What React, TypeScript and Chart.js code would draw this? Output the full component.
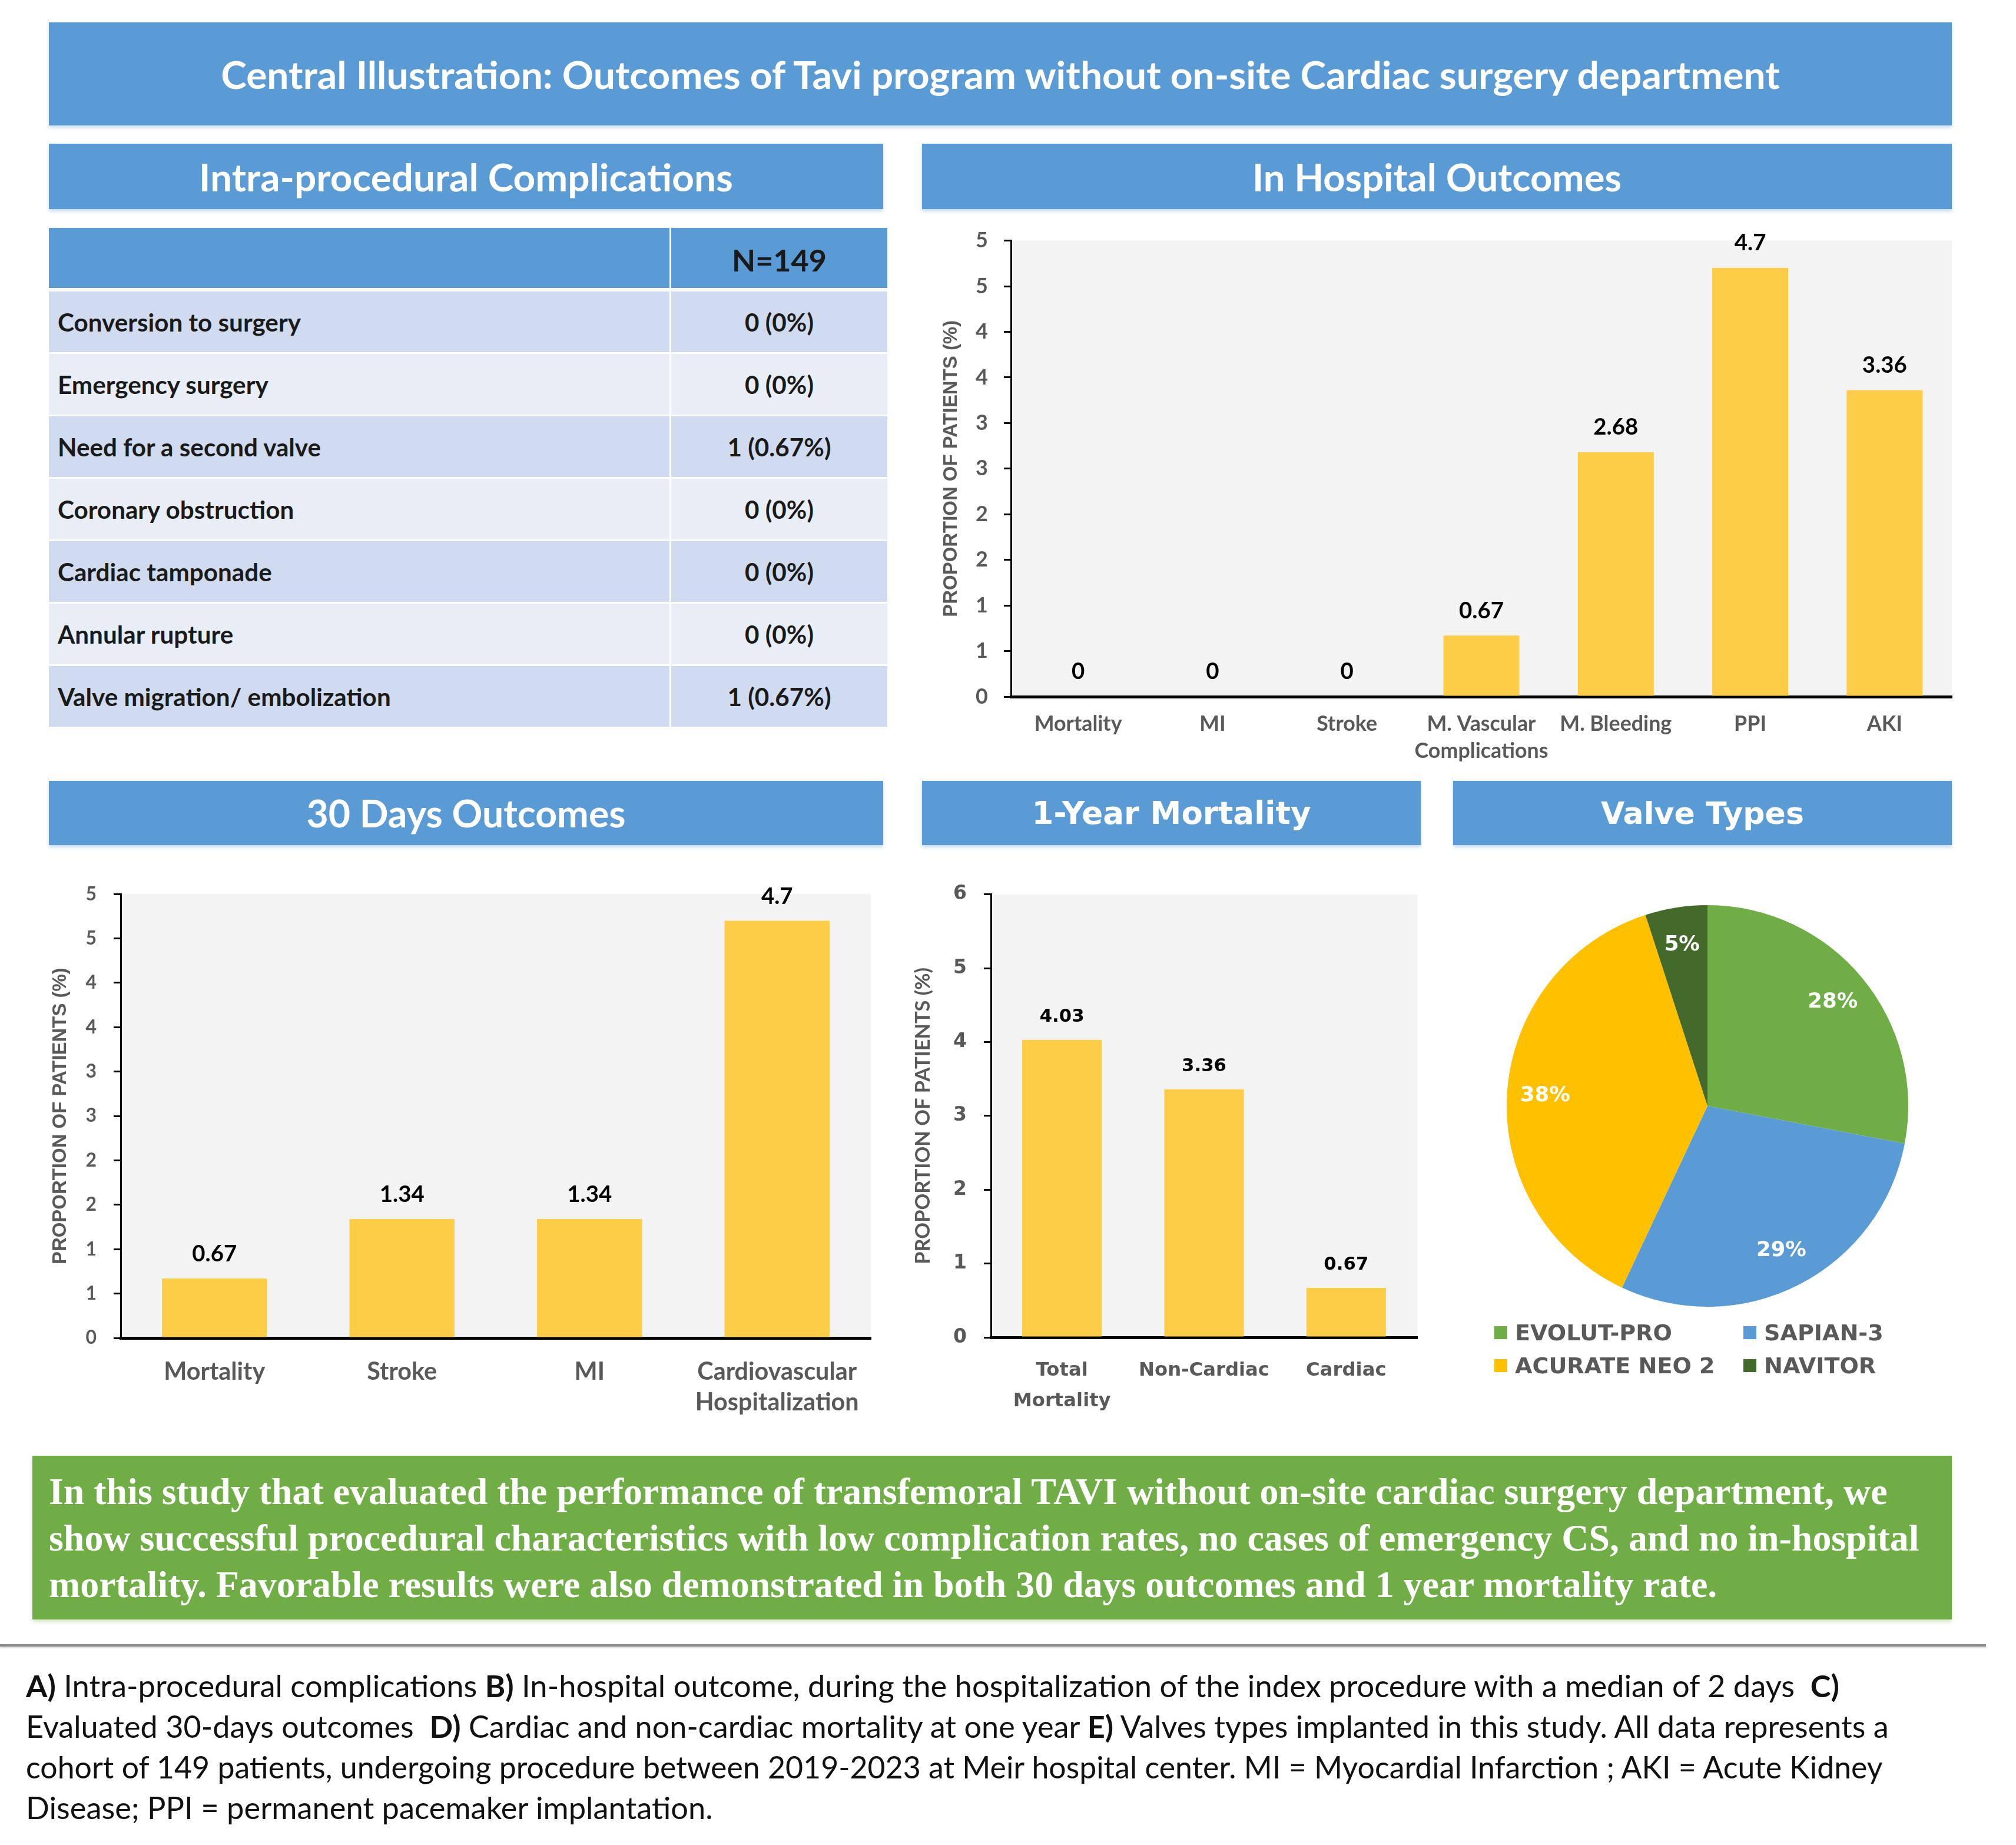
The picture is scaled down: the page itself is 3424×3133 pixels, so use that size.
import React, { useEffect, useRef } from 'react';
import { Chart, registerables } from 'chart.js';
Chart.register(...registerables);

// ---------------- data ----------------
const complicationItems = [
  'Conversion to surgery',
  'Emergency surgery',
  'Need for a second valve',
  'Coronary obstruction',
  'Cardiac tamponade',
  'Annular rupture',
  'Valve migration/ embolization',
];
const complicationCounts = ['0 (0%)', '0 (0%)', '1 (0.67%)', '0 (0%)', '0 (0%)', '0 (0%)', '1 (0.67%)'];
const cohortLabel = 'N=149';

const hospitalCategories: any[] = ['Mortality', 'MI', 'Stroke', ['M. Vascular', 'Complications'], 'M. Bleeding', 'PPI', 'AKI'];
const hospitalValues = [0, 0, 0, 0.67, 2.68, 4.7, 3.36];
const halfStepTickLabels = ['0', '1', '1', '2', '2', '3', '3', '4', '4', '5', '5'];

const days30Categories: any[] = ['Mortality', 'Stroke', 'MI', ['Cardiovascular', 'Hospitalization']];
const days30Values = [0.67, 1.34, 1.34, 4.7];

const yearCategories: any[] = [['Total', 'Mortality'], 'Non-Cardiac', 'Cardiac'];
const yearValues = [4.03, 3.36, 0.67];
const yearTickLabels = ['0', '1', '2', '3', '4', '5', '6'];

const valveTypes = ['EVOLUT-PRO', 'SAPIAN-3', 'ACURATE NEO 2', 'NAVITOR'];
const valveShares = [28, 29, 38, 5];

const axisTitle = 'PROPORTION OF PATIENTS (%)';
const mainTitle = 'Central Illustration: Outcomes of Tavi program without on-site Cardiac surgery department';
const summaryLines = [
  'In this study that evaluated the performance of transfemoral TAVI without on-site cardiac surgery department, we',
  'show successful procedural characteristics with low complication rates, no cases of emergency CS, and no in-hospital',
  'mortality. Favorable results were also demonstrated in both 30 days outcomes and 1 year mortality rate.',
];
const captionLines: { t: string; b?: boolean }[][] = [
  [
    { t: 'A)', b: true },
    { t: ' Intra-procedural complications ' },
    { t: 'B)', b: true },
    { t: ' In-hospital outcome, during the hospitalization of the index procedure with a median of 2 days  ' },
    { t: 'C)', b: true },
  ],
  [
    { t: 'Evaluated 30-days outcomes  ' },
    { t: 'D)', b: true },
    { t: ' Cardiac and non-cardiac mortality at one year ' },
    { t: 'E)', b: true },
    { t: ' Valves types implanted in this study. All data represents a' },
  ],
  [{ t: 'cohort of 149 patients, undergoing procedure between 2019-2023 at Meir hospital center. MI = Myocardial Infarction ; AKI = Acute Kidney' }],
  [{ t: 'Disease; PPI = permanent pacemaker implantation.' }],
];

// ---------------- styles ----------------
const BLUE = '#5B9BD5';
const GREEN = '#70AD47';
const BAR_COLOR = '#FDCD48';
const VALVE_COLORS = ['#70AD47', '#5B9BD5', '#FFC000', '#436A2B'];
const GRAY_TEXT = '#595959';
const LATO = 'Lato';
const DEJAVU = "'DejaVu Sans'";
const LIBSANS = "'Liberation Sans'";
const SERIF = "'Liberation Serif'";

let mctx: any = null;
function measure(segs: { t: string; b?: boolean }[] | string, family: string, size: number, bold = true) {
  if (!mctx) mctx = document.createElement('canvas').getContext('2d');
  const list = typeof segs === 'string' ? [{ t: segs, b: bold }] : segs;
  let w = 0;
  for (const s of list) {
    mctx.font = `${s.b ? 'bold ' : ''}${size}px ${family}`;
    w += mctx.measureText(s.t).width;
  }
  return w;
}
function fit(segs: { t: string; b?: boolean }[] | string, family: string, target: number, bold = true) {
  return (100 * target) / measure(segs, family, 100, bold);
}

const plotBg = {
  id: 'plotBg',
  beforeDraw(chart: any) {
    const { ctx, chartArea: a } = chart;
    ctx.save();
    ctx.fillStyle = '#F3F3F3';
    ctx.fillRect(a.left, a.top, a.right - a.left, a.bottom - a.top);
    ctx.restore();
  },
};

const valueLabels = {
  id: 'valueLabels',
  afterDatasetsDraw(chart: any, _a: any, opts: any) {
    const { ctx } = chart;
    const meta = chart.getDatasetMeta(0);
    const data = chart.data.datasets[0].data;
    ctx.save();
    ctx.font = opts.font;
    ctx.fillStyle = '#000';
    ctx.textAlign = 'center';
    ctx.textBaseline = 'middle';
    meta.data.forEach((el: any, i: number) => {
      ctx.fillText(String(data[i]), el.x, el.y - opts.offset);
    });
    ctx.restore();
  },
};

const pieLabels = {
  id: 'pieLabels',
  afterDatasetsDraw(chart: any, _a: any, opts: any) {
    const { ctx } = chart;
    const meta = chart.getDatasetMeta(0);
    const data = chart.data.datasets[0].data;
    ctx.save();
    ctx.font = opts.font;
    ctx.fillStyle = '#fff';
    ctx.textAlign = 'center';
    ctx.textBaseline = 'middle';
    meta.data.forEach((arc: any, i: number) => {
      const mid = (arc.startAngle + arc.endAngle) / 2;
      const r = arc.outerRadius * opts.radius;
      ctx.fillText(`${data[i]}%`, arc.x + Math.cos(mid) * r, arc.y + Math.sin(mid) * r);
    });
    ctx.restore();
  },
};

type BarProps = {
  box: { left: number; top: number; width: number; height: number };
  plot: { left: number; top: number; right: number; bottom: number };
  labels: any[];
  values: number[];
  max: number;
  step: number;
  tickLabels: string[];
  family: string;
  labelSize: number;
  tickSize: number;
  valueSize: number;
  lineHeight: number;
  labelGap: number;
  tickGap: number;
  valueOffset: number;
  barRatio: number;
  titleFamily: string;
  titleSize: number;
  titleCenter: number;
};

function BarChart(p: BarProps) {
  const ref = useRef<HTMLCanvasElement>(null);
  useEffect(() => {
    const yWidth = p.plot.left - p.box.left;
    const xHeight = p.box.top + p.box.height - p.plot.bottom;
    const padTop = p.plot.top - p.box.top;
    const padRight = p.box.left + p.box.width - p.plot.right;
    const chart = new Chart(ref.current as any, {
      type: 'bar',
      data: {
        labels: p.labels,
        datasets: [
          {
            data: p.values,
            backgroundColor: BAR_COLOR,
            barPercentage: p.barRatio,
            categoryPercentage: 1,
          },
        ],
      },
      options: {
        animation: false,
        responsive: false,
        devicePixelRatio: 1,
        layout: { padding: { top: padTop, right: padRight, left: 0, bottom: 0 } },
        plugins: {
          legend: { display: false },
          tooltip: { enabled: false },
          valueLabels: { font: `bold ${p.valueSize}px ${p.family}`, offset: p.valueOffset },
        } as any,
        scales: {
          x: {
            offset: true,
            grid: { display: false, drawTicks: false },
            border: { display: true, color: '#000', width: 5 },
            ticks: {
              color: GRAY_TEXT,
              font: { family: p.family, size: p.labelSize, weight: 'bold', lineHeight: `${p.lineHeight}px` },
              padding: p.labelGap,
              maxRotation: 0,
              autoSkip: false,
            },
            afterFit: (s: any) => {
              s.height = xHeight;
            },
          },
          y: {
            min: 0,
            max: p.max,
            ticks: {
              stepSize: p.step,
              autoSkip: false,
              callback: (_v: any, i: number) => p.tickLabels[i],
              color: GRAY_TEXT,
              font: { family: p.family, size: p.tickSize, weight: 'bold' },
              padding: p.tickGap,
            },
            grid: { drawOnChartArea: false, drawTicks: true, tickLength: 12, color: '#000', lineWidth: 3 },
            border: { display: true, color: '#000', width: 3 },
            title: {
              display: true,
              text: axisTitle,
              color: GRAY_TEXT,
              font: { family: p.titleFamily, size: p.titleSize, weight: 'bold', lineHeight: '34px' },
              padding: { top: p.titleCenter - p.box.left - 17, bottom: 0 },
            },
            afterFit: (s: any) => {
              s.width = yWidth;
            },
          },
        } as any,
      },
      plugins: [plotBg, valueLabels],
    });
    return () => chart.destroy();
  }, []);
  return (
    <canvas
      ref={ref}
      width={p.box.width}
      height={p.box.height}
      style={{ position: 'absolute', left: p.box.left, top: p.box.top, width: p.box.width, height: p.box.height }}
    />
  );
}

const PIE_CX = 2900;
const PIE_CY = 1878;
const PIE_R = 341;

function PieChart({ size }: { size: number }) {
  const ref = useRef<HTMLCanvasElement>(null);
  useEffect(() => {
    const chart = new Chart(ref.current as any, {
      type: 'pie',
      data: {
        labels: valveTypes,
        datasets: [{ data: valveShares, backgroundColor: VALVE_COLORS, borderWidth: 0, hoverOffset: 0, hoverBorderWidth: 0 } as any],
      },
      options: {
        animation: false,
        responsive: false,
        devicePixelRatio: 1,
        layout: { padding: 400 - PIE_R },
        plugins: {
          legend: { display: false },
          tooltip: { enabled: false },
          pieLabels: { font: `bold ${size}px ${DEJAVU}`, radius: 0.81 },
        } as any,
      },
      plugins: [pieLabels],
    });
    return () => chart.destroy();
  }, []);
  return (
    <canvas
      ref={ref}
      width={800}
      height={800}
      style={{ position: 'absolute', left: PIE_CX - 400, top: PIE_CY - 400, width: 800, height: 800 }}
    />
  );
}

function Header({ left, top, width, height, text, family, size }: any) {
  return (
    <div
      style={{
        position: 'absolute',
        left,
        top,
        width,
        height,
        background: BLUE,
        color: '#fff',
        fontFamily: family,
        fontWeight: 700,
        fontSize: size,
        display: 'flex',
        alignItems: 'center',
        justifyContent: 'center',
        whiteSpace: 'nowrap',
        boxShadow: '0 4px 6px rgba(91,155,213,0.35)',
      }}
    >
      {text}
    </div>
  );
}

export default function App() {
  const titleSize = fit(mainTitle, LATO, 2654);
  const hA = fit('Intra-procedural Complications', LATO, 907);
  const hB = fit('In Hospital Outcomes', LATO, 627);
  const hC = fit('30 Days Outcomes', LATO, 542);
  const hD = fit('1-Year Mortality', DEJAVU, 474);
  const hE = fit('Valve Types', DEJAVU, 345);
  const tableSize = fit('Conversion to surgery', LATO, 413);
  const nSize = fit(cohortLabel, LATO, 161);
  const summarySize = fit(summaryLines[0], SERIF, 3124);
  const captionSize = fit(captionLines[0], LATO, 3083, false);
  const captionTargets = [3083, 3171, 3159, 0];
  const legendSize = fit('EVOLUT-PRO', DEJAVU, 267);
  const pieSize = fit('28%', DEJAVU, 85);

  const hospLabel = fit('Complications', LATO, 227);
  const hospValue = fit('2.68', LATO, 76);
  const d30Label = fit('Cardiovascular', LATO, 271);
  const d30Value = fit('1.34', LATO, 76);
  const yrLabel = fit('Non-Cardiac', DEJAVU, 222);
  const yrValue = fit('4.03', DEJAVU, 76);
  const titleWide = fit(axisTitle, LIBSANS, 504);
  const titleNarrow = fit(axisTitle, LATO, 504);

  const rowH = 106;
  const tLeft = 83;
  const tTop = 387;
  const split = 1140;
  const tRight = 1507;

  const rows = [] as any[];
  rows.push(
    <div key="h1" style={{ position: 'absolute', left: tLeft, top: tTop, width: split - tLeft - 3, height: rowH - 4, background: BLUE }} />
  );
  rows.push(
    <div
      key="h2"
      style={{
        position: 'absolute',
        left: split,
        top: tTop,
        width: tRight - split,
        height: rowH - 4,
        background: BLUE,
        display: 'flex',
        justifyContent: 'center',
        alignItems: 'flex-end',
        fontFamily: LATO,
        fontWeight: 700,
        fontSize: nSize,
        color: '#1a1a1a',
        lineHeight: 1,
      }}
    >
      <span style={{ marginBottom: 22 }}>{cohortLabel}</span>
    </div>
  );
  complicationItems.forEach((item, i) => {
    const top = tTop + rowH * (i + 1) + 2;
    const bg = i % 2 === 0 ? '#D0DBEF' : '#E9EEF6';
    const common: any = {
      position: 'absolute',
      top,
      height: rowH - 3,
      background: bg,
      display: 'flex',
      alignItems: 'center',
      fontFamily: LATO,
      fontWeight: 700,
      fontSize: tableSize,
      color: '#1a1a1a',
      whiteSpace: 'nowrap',
    };
    rows.push(
      <div key={'l' + i} style={{ ...common, left: tLeft, width: split - tLeft - 3, paddingLeft: 15, boxSizing: 'border-box' }}>
        {item}
      </div>
    );
    rows.push(
      <div key={'r' + i} style={{ ...common, left: split, width: tRight - split, justifyContent: 'center' }}>
        {complicationCounts[i]}
      </div>
    );
  });

  const legendPos = [
    { x: 2538, y: 2263 },
    { x: 2961, y: 2263 },
    { x: 2538, y: 2319 },
    { x: 2961, y: 2319 },
  ];

  return (
    <div style={{ position: 'absolute', left: 0, top: 0, width: 3424, height: 3133, background: '#fff', overflow: 'hidden' }}>
      <Header left={83} top={38} width={3232} height={175} text={mainTitle} family={LATO} size={titleSize} />
      <Header left={83} top={244} width={1417} height={111} text="Intra-procedural Complications" family={LATO} size={hA} />
      <Header left={1566} top={244} width={1749} height={111} text="In Hospital Outcomes" family={LATO} size={hB} />
      <Header left={83} top={1326} width={1417} height={109} text="30 Days Outcomes" family={LATO} size={hC} />
      <Header left={1566} top={1326} width={847} height={109} text="1-Year Mortality" family={DEJAVU} size={hD} />
      <Header left={2468} top={1326} width={847} height={109} text="Valve Types" family={DEJAVU} size={hE} />

      {rows}

      <BarChart
        box={{ left: 1566, top: 360, width: 1759, height: 945 }}
        plot={{ left: 1717, top: 405, right: 3315, bottom: 1183 }}
        labels={hospitalCategories}
        values={hospitalValues}
        max={5}
        step={0.5}
        tickLabels={halfStepTickLabels}
        family={LATO}
        labelSize={hospLabel}
        tickSize={36}
        valueSize={hospValue}
        lineHeight={46}
        labelGap={23}
        tickGap={27}
        valueOffset={42}
        barRatio={0.565}
        titleFamily={LIBSANS}
        titleSize={titleWide}
        titleCenter={1616}
      />
      <BarChart
        box={{ left: 60, top: 1470, width: 1440, height: 950 }}
        plot={{ left: 205, top: 1512, right: 1479, bottom: 2272 }}
        labels={days30Categories}
        values={days30Values}
        max={5}
        step={0.5}
        tickLabels={halfStepTickLabels}
        family={LATO}
        labelSize={d30Label}
        tickSize={32}
        valueSize={d30Value}
        lineHeight={52}
        labelGap={32}
        tickGap={29}
        valueOffset={41}
        barRatio={0.56}
        titleFamily={LIBSANS}
        titleSize={titleWide}
        titleCenter={103}
      />
      <BarChart
        box={{ left: 1530, top: 1470, width: 883, height: 950 }}
        plot={{ left: 1683, top: 1511, right: 2407, bottom: 2271 }}
        labels={yearCategories}
        values={yearValues}
        max={6}
        step={1}
        tickLabels={yearTickLabels}
        family={DEJAVU}
        labelSize={yrLabel}
        tickSize={33}
        valueSize={yrValue}
        lineHeight={52}
        labelGap={31}
        tickGap={29}
        valueOffset={39}
        barRatio={0.56}
        titleFamily={LATO}
        titleSize={titleNarrow}
        titleCenter={1568}
      />

      <PieChart size={pieSize} />
      {valveTypes.map((name, i) => (
        <div
          key={name}
          style={{
            position: 'absolute',
            left: legendPos[i].x,
            top: legendPos[i].y - 30,
            height: 60,
            display: 'flex',
            alignItems: 'center',
            whiteSpace: 'nowrap',
            fontFamily: DEJAVU,
            fontWeight: 700,
            fontSize: legendSize,
            color: GRAY_TEXT,
          }}
        >
          <span style={{ display: 'inline-block', width: 22, height: 22, background: VALVE_COLORS[i], marginRight: 13 }} />
          {name}
        </div>
      ))}

      <div style={{ position: 'absolute', left: 55, top: 2472, width: 3260, height: 278, background: GREEN, boxShadow: '0 4px 6px rgba(112,173,71,0.3)' }} />
      {summaryLines.map((line, i) => (
        <div
          key={'s' + i}
          style={{
            position: 'absolute',
            left: 83,
            top: 2533 + i * 79 - 40,
            height: 80,
            lineHeight: '80px',
            whiteSpace: 'nowrap',
            fontFamily: SERIF,
            fontWeight: 700,
            fontSize: summarySize,
            color: '#fff',
          }}
        >
          {line}
        </div>
      ))}

      <div style={{ position: 'absolute', left: 0, top: 2792, width: 3373, height: 4, background: '#8C8C8C', boxShadow: '0 2px 3px rgba(0,0,0,0.2)' }} />
      {captionLines.map((segs, i) => {
        const natural = measure(segs, LATO, captionSize, false);
        const sx = captionTargets[i] ? captionTargets[i] / natural : 1;
        return (
          <div
            key={'c' + i}
            style={{
              position: 'absolute',
              left: 44,
              top: 2862 + i * 69 - 35,
              height: 70,
              lineHeight: '70px',
              whiteSpace: 'pre',
              fontFamily: LATO,
              fontWeight: 400,
              fontSize: captionSize,
              color: '#111',
              transform: `scaleX(${sx})`,
              transformOrigin: 'left center',
            }}
          >
            {segs.map((s, j) => (
              <span key={j} style={{ fontWeight: s.b ? 700 : 400 }}>
                {s.t}
              </span>
            ))}
          </div>
        );
      })}
    </div>
  );
}
